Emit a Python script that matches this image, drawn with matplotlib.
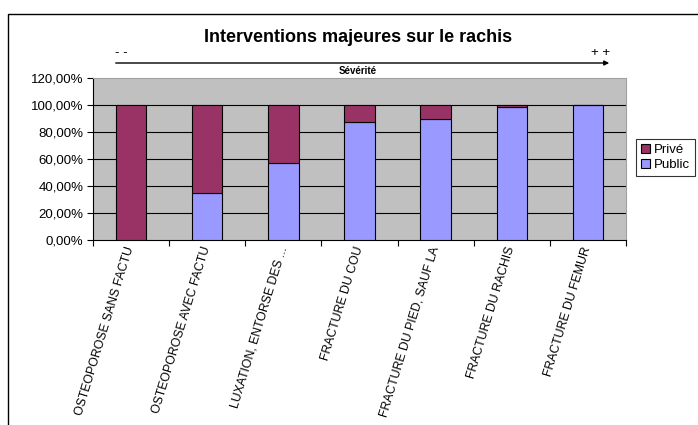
import numpy as np
import matplotlib
import matplotlib.pyplot as plt
from matplotlib.patches import Rectangle, FancyArrowPatch

matplotlib.use('Agg')

categories = ['OSTEOPOROSE SANS FACTU', 'OSTEOPOROSE AVEC FACTU',
              'LUXATION, ENTORSE DES ...', 'FRACTURE DU COU',
              'FRACTURE DU PIED, SAUF LA', 'FRACTURE DU RACHIS',
              'FRACTURE DU FEMUR']
public = [0.0, 35.0, 57.3, 87.3, 89.4, 98.5, 100.0]
prive = [100.0, 65.0, 42.7, 12.7, 10.6, 1.5, 0.0]
yticks = [0, 20, 40, 60, 80, 100, 120]

plt.rcParams['font.family'] = ['Liberation Sans', 'DejaVu Sans']

fig = plt.figure(figsize=(6.98, 4.25), dpi=100)
ax = fig.add_axes([93 / 698, 1 - 240 / 425, (626 - 93) / 698, (240 - 78) / 425])

# outer chart border
fig.patches.append(Rectangle((8 / 698, -0.1), 1.2, 1 - 14 / 425 + 0.1,
                             transform=fig.transFigure, fill=False,
                             edgecolor='black', linewidth=1.0))

ax.set_facecolor('#C0C0C0')
x = np.arange(len(categories))
w = 0.4
ax.bar(x, public, w, color='#9999FF', edgecolor='black', linewidth=0.8,
       label='Public', zorder=3)
ax.bar(x, prive, w, bottom=public, color='#993366', edgecolor='black',
       linewidth=0.8, label='Privé', zorder=3)

ax.set_ylim(0, 120)
ax.set_xlim(-0.5, len(categories) - 0.5)
ax.set_yticks(yticks)
ax.set_yticklabels(['%d,00%%' % v for v in yticks], fontsize=9.5)
for v in yticks[1:-1]:
    ax.axhline(v, color='black', linewidth=0.8, zorder=1)

ax.set_xticks(x)
ax.set_xticklabels(categories, rotation=73, ha='right', va='center',
                   rotation_mode='anchor', fontsize=8.8)
ax.tick_params(axis='x', length=0, pad=5)
ax.set_xticks(np.arange(-0.5, len(categories)), minor=True)
ax.tick_params(axis='x', which='minor', length=4, direction='out', width=0.8)
ax.tick_params(axis='y', length=4, direction='out', width=0.8, pad=3)

for s in ['top', 'right']:
    ax.spines[s].set_color('#a0a0a0')
for s in ['left', 'bottom']:
    ax.spines[s].set_color('black')
    ax.spines[s].set_linewidth(0.8)

fig.text(358 / 698, 1 - 38 / 425, 'Interventions majeures sur le rachis',
         ha='center', va='center', fontsize=13, fontweight='bold')
fig.text(115 / 698, 1 - 53 / 425, '- -', ha='left', va='center', fontsize=9.5)
fig.text(610 / 698, 1 - 53 / 425, '+ +', ha='right', va='center', fontsize=9.5)
fig.patches.append(FancyArrowPatch((113 / 698, 1 - 63 / 425), (612 / 698, 1 - 63 / 425),
                                   transform=fig.transFigure, arrowstyle='-|>',
                                   mutation_scale=7, linewidth=1.0, color='black'))
fig.text(358 / 698, 1 - 71 / 425, 'Sévérité', ha='center', va='center',
         fontsize=7, fontweight='bold')

handles, labels = ax.get_legend_handles_labels()
leg = fig.legend(handles[::-1], labels[::-1], loc='upper left',
                 bbox_to_anchor=(636 / 698, 1 - 139 / 425), fontsize=9.5,
                 frameon=True, fancybox=False, edgecolor='black',
                 handlelength=0.7, handleheight=0.7, handletextpad=0.3,
                 borderpad=0.35, labelspacing=0.25, borderaxespad=0)
leg.get_frame().set_linewidth(0.8)

fig.savefig('out.png', dpi=100)
